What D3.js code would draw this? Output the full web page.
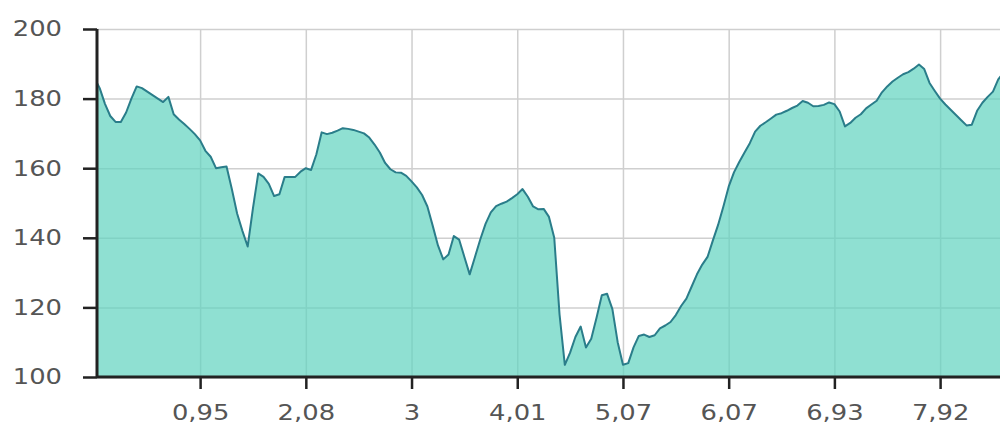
<!DOCTYPE html>
<html>
<head>
<meta charset="utf-8">
<script src="https://cdn.jsdelivr.net/npm/d3@7"></script>
<style>
  body { margin: 0; background: #fff; }
  .grid line { stroke: #cfcfcf; stroke-width: 1.5; }
  .grid path { display: none; }
  .axis text { font-family: 'DejaVu Sans', Verdana, sans-serif; font-size: 21.5px; fill: #555; }
  .axis line { stroke: #222; stroke-width: 2.5; }
  .axis path { display: none; }
</style>
</head>
<body>
<div id="chart"></div>
<script>
// Heart rate samples, one every step of the x axis
const heartRate = [
  186, 183, 178.5, 175, 173.3, 173.3, 176, 180, 183.5, 183,
  182, 181, 180, 179, 180.5, 175.5, 174, 172.7, 171.3, 169.8,
  168, 165, 163.3, 160, 160.3, 160.5, 154, 147, 142, 137.5,
  148.5, 158.5, 157.5, 155.5, 152, 152.5, 157.5, 157.5, 157.5, 159,
  160, 159.5, 164, 170.3, 169.8, 170.2, 170.8, 171.5, 171.3, 171,
  170.5, 170, 168.8, 166.8, 164.5, 161.5, 159.7, 158.8, 158.7, 157.8,
  156.2, 154.5, 152.3, 149, 143.5, 137.8, 133.8, 135.2, 140.5, 139.5,
  134.5, 129.5, 134.5, 139.5, 144, 147.3, 149.1, 149.8, 150.4, 151.4,
  152.5, 154, 151.8, 149, 148.2, 148.3, 146, 140, 118, 103.5,
  107, 111.5, 114.5, 108.5, 111, 117, 123.5, 123.9, 119.5, 110,
  103.5, 104, 108.5, 111.8, 112.2, 111.5, 112, 114, 114.8, 115.8,
  117.8, 120.4, 122.5, 126, 129.5, 132.3, 134.5, 139.2, 143.7, 149,
  154.7, 158.8, 161.8, 164.5, 167.2, 170.5, 172.2, 173.2, 174.3, 175.4,
  175.8, 176.5, 177.3, 178, 179.3, 178.8, 177.8, 177.9, 178.2, 178.9,
  178.4, 176.3, 172, 173, 174.5, 175.5, 177.2, 178.3, 179.4, 181.8,
  183.5, 184.9, 186, 187, 187.6, 188.6, 189.8, 188.5, 184.5, 182.2,
  180, 178.3, 176.8, 175.3, 173.8, 172.3, 172.5, 176.5, 178.8, 180.5,
  182, 185.5, 187.5
];

// Distance labels shown every 20 samples
const tickIndex = [20, 40, 60, 80, 100, 120, 140, 160];
const tickLabels = ['0,95', '2,08', '3', '4,01', '5,07', '6,07', '6,93', '7,92'];
const yTicks = [100, 120, 140, 160, 180, 200];

const width = 1000, height = 428;
const margin = { top: 29, left: 97, bottom: 51 };
const plotBottom = height - margin.bottom;
const stretch = 1.2; // labels are drawn a bit wider than normal

const svg = d3.select('#chart')
  .append('svg')
  .attr('width', width)
  .attr('height', height);

const x = d3.scaleLinear().domain([0, 160]).range([94.4, 940.1]);
const y = d3.scaleLinear().domain([100, 200]).range([plotBottom, margin.top]);

// Grid lines
svg.append('g')
  .attr('class', 'grid')
  .attr('transform', `translate(0,${plotBottom})`)
  .call(d3.axisBottom(x).tickValues(tickIndex).tickSize(-(plotBottom - margin.top)).tickFormat(''));
svg.append('g')
  .attr('class', 'grid')
  .attr('transform', `translate(${margin.left},0)`)
  .call(d3.axisLeft(y).tickValues(yTicks).tickSize(-(width - margin.left)).tickFormat(''));

// Clip to the plot area
svg.append('clipPath')
  .attr('id', 'plot')
  .append('rect')
  .attr('x', margin.left)
  .attr('y', 0)
  .attr('width', width - margin.left)
  .attr('height', plotBottom);

const area = d3.area()
  .x((d, i) => x(i))
  .y0(y(100))
  .y1((d) => y(d));
const line = d3.line()
  .x((d, i) => x(i))
  .y((d) => y(d));

const plot = svg.append('g').attr('clip-path', 'url(#plot)');
plot.append('path')
  .datum(heartRate)
  .attr('d', area)
  .attr('fill', '#5fd3bf')
  .attr('fill-opacity', 0.7);
plot.append('path')
  .datum(heartRate)
  .attr('d', line)
  .attr('fill', 'none')
  .attr('stroke', '#2a7d8a')
  .attr('stroke-width', 2)
  .attr('stroke-linejoin', 'round');

// Y axis
const yAxis = svg.append('g')
  .attr('class', 'axis')
  .attr('transform', `translate(${margin.left},0)`)
  .call(d3.axisLeft(y).tickValues(yTicks).tickSize(14).tickPadding(21));
yAxis.selectAll('text')
  .attr('x', -35 / stretch)
  .attr('transform', `scale(${stretch},1)`);

// X axis
const xAxis = svg.append('g')
  .attr('class', 'axis')
  .attr('transform', `translate(0,${plotBottom})`)
  .call(d3.axisBottom(x).tickValues(tickIndex).tickSize(12).tickPadding(15.7)
    .tickFormat((d, i) => tickLabels[i]));
xAxis.selectAll('text')
  .attr('transform', `scale(${stretch},1)`)
  .attr('x', function (d) { return 0; });
xAxis.selectAll('.tick')
  .each(function (d) {
    // keep label centred on the tick after stretching
    d3.select(this).select('text').attr('x', 0);
  });

// Axis lines
svg.append('line')
  .attr('x1', margin.left).attr('x2', margin.left)
  .attr('y1', y(200)).attr('y2', plotBottom)
  .attr('stroke', '#222').attr('stroke-width', 3);
svg.append('line')
  .attr('x1', margin.left).attr('x2', width)
  .attr('y1', plotBottom).attr('y2', plotBottom)
  .attr('stroke', '#222').attr('stroke-width', 3);
</script>
</body>
</html>
